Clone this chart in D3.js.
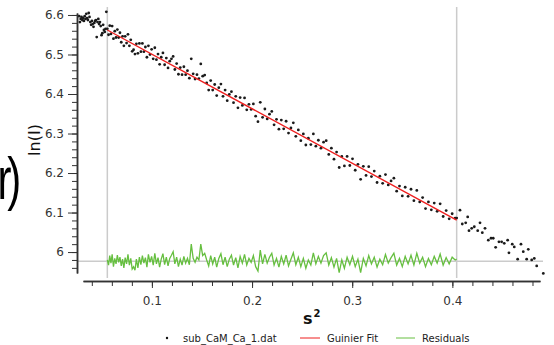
<!DOCTYPE html>
<html><head><meta charset="utf-8">
<script src="https://cdn.jsdelivr.net/npm/d3@7"></script>
<style>body{margin:0;background:#fff}svg{display:block}</style>
</head><body><svg id="c" width="554" height="345"></svg>
<script>
// ---- data ----
const s2 = [
0.0273,0.0281,0.0289,0.0297,0.0305,0.0313,0.0321,0.0329,0.0337,0.0345,
0.0353,0.0361,0.0369,0.0377,0.0385,0.0393,0.0401,0.0409,0.0417,0.0425,
0.0433,0.0441,0.0449,0.0457,0.0465,0.0473,0.0481,0.0489,0.0497,0.0505,
0.0513,0.0521,0.0529,0.0537,0.0545,
0.0555,0.0567,0.0579,0.0591,0.0603,0.0616,0.0629,0.0642,0.0655,0.0668,
0.0681,0.0694,0.0707,0.0720,0.0733,0.0747,0.0761,0.0775,0.0789,0.0803,
0.0817,0.0831,0.0845,0.0860,0.0875,0.0890,0.0905,0.0920,0.0935,0.0950,
0.0965,0.0981,0.0997,0.1013,0.1029,0.1045,0.1061,0.1077,0.1093,0.1110,
0.1127,0.1144,0.1161,0.1178,0.1195,0.1212,0.1229,0.1247,0.1265,0.1283,
0.1301,0.1319,0.1337,0.1355,0.1374,0.1393,0.1412,0.1431,0.1450,0.1469,
0.1488,0.1507,0.1527,0.1547,0.1567,0.1587,0.1607,0.1627,0.1647,0.1668,
0.1689,0.1710,0.1731,0.1752,0.1773,0.1794,0.1815,0.1837,0.1859,0.1881,
0.1903,0.1925,0.1947,0.1969,0.1991,0.2013,0.2036,0.2059,0.2082,0.2105,
0.2128,0.2151,0.2174,0.2197,0.2220,0.2244,0.2268,0.2292,0.2316,0.2340,
0.2364,0.2388,0.2412,0.2437,0.2462,0.2487,0.2512,0.2537,0.2562,0.2587,
0.2612,0.2637,0.2662,0.2688,0.2714,0.2740,0.2766,0.2792,0.2818,0.2844,
0.2870,0.2896,0.2922,0.2949,0.2976,0.3003,0.3030,0.3057,0.3084,0.3111,
0.3138,0.3165,0.3192,0.3220,0.3248,0.3276,0.3304,0.3332,0.3360,0.3388,
0.3416,0.3444,0.3472,0.3500,0.3529,0.3558,0.3587,0.3616,0.3645,0.3674,
0.3703,0.3732,0.3761,0.3790,0.3819,0.3848,0.3878,0.3908,0.3938,0.3968,
0.3998,0.4028,0.4043,
0.4076,0.4099,0.4133,0.4153,0.4166,0.4193,0.4219,0.4253,0.4276,0.4299,
0.4326,0.4359,0.4386,0.4408,0.4432,0.4465,0.4492,0.4518,0.4552,0.4565,
0.4598,0.4618,0.4652,0.4685,0.4708,0.4742,0.4758,0.4792,0.4818,0.4842,
0.4908
];
const lnI = [
6.597,6.582,6.590,6.595,6.587,6.592,6.585,6.597,6.590,6.603,
6.592,6.587,6.605,6.595,6.582,6.575,6.585,6.577,6.570,6.580,
6.585,6.587,6.544,6.582,6.590,6.577,6.582,6.572,6.549,6.554,
6.575,6.562,6.557,6.565,6.608,
6.565,6.550,6.573,6.552,6.572,6.540,6.559,6.543,6.563,6.543,
6.555,6.531,6.546,6.522,6.546,6.529,6.551,6.522,6.537,6.508,
6.512,6.501,6.527,6.503,6.528,6.507,6.528,6.507,6.519,6.493,
6.522,6.500,6.513,6.489,6.517,6.487,6.501,6.475,6.493,6.504,
6.474,6.491,6.466,6.483,6.489,6.495,6.462,6.477,6.450,6.467,
6.449,6.469,6.449,6.459,6.440,6.489,6.451,6.438,6.449,6.439,
6.476,6.445,6.448,6.428,6.410,6.434,6.410,6.424,6.396,6.416,
6.425,6.394,6.410,6.383,6.399,6.406,6.378,6.394,6.365,6.391,
6.371,6.390,6.360,6.374,6.361,6.375,6.344,6.330,6.379,6.341,
6.362,6.337,6.349,6.356,6.322,6.336,6.311,6.334,6.312,6.331,
6.301,6.314,6.327,6.293,6.309,6.282,6.299,6.271,6.288,6.272,
6.299,6.268,6.283,6.263,6.278,6.282,6.247,6.263,6.235,6.253,
6.214,6.242,6.218,6.242,6.219,6.236,6.207,6.222,6.184,6.217,
6.194,6.216,6.191,6.205,6.176,6.192,6.174,6.196,6.170,6.180,
6.187,6.154,6.167,6.142,6.164,6.141,6.159,6.130,6.156,6.127,
6.138,6.110,6.127,6.107,6.124,6.103,6.122,6.090,6.105,6.084,
6.097,6.086,6.086,
6.106,6.071,6.074,6.089,6.054,6.060,6.064,6.054,6.074,6.049,
6.060,6.030,6.035,6.035,6.012,6.026,6.026,6.022,6.030,5.998,
6.020,6.013,5.982,6.020,6.001,5.982,6.007,5.980,5.984,5.965,
5.946
];
// Guinier fit line (end points) and its range
const fitS2 = [0.0555, 0.4043];
const fitLnI = [6.562, 6.081];
const fitFirstIndex = 35;
// residuals of the points inside the fit range, drawn around a baseline
const residualBaseline = 5.977;
const residuals = [
0.003,-0.010,0.014,-0.005,0.017,-0.014,0.007,-0.007,0.015,-0.003,
0.010,-0.012,0.005,-0.017,0.009,-0.007,0.017,-0.010,0.007,-0.020,
-0.014,-0.023,0.005,-0.017,0.010,-0.009,0.014,-0.005,0.009,-0.015,
0.017,-0.003,0.012,-0.010,0.020,-0.007,0.009,-0.015,0.005,0.019,
-0.009,0.010,-0.012,0.007,0.015,0.024,-0.007,0.010,-0.014,0.005,
-0.010,0.012,-0.005,0.007,-0.009,0.043,0.007,-0.003,0.010,0.003,
0.043,0.014,0.020,0.003,-0.012,0.014,-0.007,0.010,-0.015,0.007,
0.019,-0.009,0.010,-0.014,0.005,0.015,-0.010,0.009,-0.017,0.012,
-0.005,0.017,-0.010,0.007,-0.003,0.014,-0.014,-0.025,0.028,-0.007,
0.017,-0.005,0.010,0.020,-0.010,0.007,-0.015,0.012,-0.007,0.015,
-0.012,0.005,0.021,-0.009,0.010,-0.014,0.007,-0.018,0.003,-0.010,
0.021,-0.007,0.012,-0.005,0.014,0.021,-0.010,0.009,-0.015,0.007,
-0.029,0.003,-0.018,0.010,-0.009,0.012,-0.014,0.005,-0.029,0.007,
-0.012,0.014,-0.007,0.010,-0.015,0.005,-0.009,0.017,-0.005,0.009,
0.020,-0.010,0.007,-0.014,0.012,-0.007,0.015,-0.010,0.020,-0.005,
0.010,-0.014,0.007,-0.009,0.012,-0.005,0.018,-0.010,0.009,-0.007,
0.010,0.003,0.005
];
const xTickValues = [0.1, 0.2, 0.3, 0.4];
const xTickLabels = ["0.1", "0.2", "0.3", "0.4"];
const yTickValues = [6.0, 6.1, 6.2, 6.3, 6.4, 6.5, 6.6];
const yTickLabels = ["6", "6.1", "6.2", "6.3", "6.4", "6.5", "6.6"];
const xTitle = "s";
const xTitleSup = "2";
const yTitle = "ln(I)";
const legendLabels = ["sub_CaM_Ca_1.dat", "Guinier Fit", "Residuals"];
const strayText = "r)";

// ---- drawing ----
const FONT = "'DejaVu Sans', Verdana, sans-serif";
const INK = "#333";
const RED = "#ee1f1f", GREEN = "#66bf40", GREY = "#cbcbcb";
const svg = d3.select("#c");

const x = d3.scaleLinear().domain([0.0312, 0.4875]).range([83, 540]);
const y = d3.scaleLinear().domain([5.947, 6.605]).range([273, 13]);
const plotTop = 7, plotBottom = 278, plotLeft = 77, plotRight = 543;

// stray big text on the left edge (partly cut off, as in the reference)
svg.append("text").attr("transform", "translate(-2.5,199) scale(0.7,1)")
  .attr("font-family", "'Liberation Sans', Arial, sans-serif").attr("font-size", 60)
  .attr("letter-spacing", -6).attr("fill", "#000").text(strayText);

// grey reference lines
fitS2.forEach(v => {
  svg.append("line").attr("x1", x(v)).attr("x2", x(v)).attr("y1", plotTop).attr("y2", plotBottom)
    .attr("stroke", GREY).attr("stroke-width", 1.5);
});
svg.append("line").attr("x1", plotLeft).attr("x2", plotRight)
  .attr("y1", y(residualBaseline)).attr("y2", y(residualBaseline))
  .attr("stroke", GREY).attr("stroke-width", 1.5);

// data points
svg.append("g").selectAll("circle").data(s2.map((v, i) => [v, lnI[i]])).join("circle")
  .attr("cx", d => x(d[0])).attr("cy", d => y(d[1])).attr("r", 1.4).attr("fill", "#1a1a1a");

// Guinier fit
svg.append("path").datum(fitS2.map((v, i) => [v, fitLnI[i]]))
  .attr("d", d3.line().x(d => x(d[0])).y(d => y(d[1])))
  .attr("fill", "none").attr("stroke", RED).attr("stroke-width", 1.4);

// residuals
const resData = residuals.map((r, i) => [s2[fitFirstIndex + i], residualBaseline + r]);
svg.append("path").datum(resData)
  .attr("d", d3.line().x(d => x(d[0])).y(d => y(d[1])))
  .attr("fill", "none").attr("stroke", GREEN).attr("stroke-width", 1.3);

// y axis
const gy = svg.append("g").attr("transform", `translate(${plotLeft},0)`);
gy.append("g").call(d3.axisLeft(y).ticks(30).tickSize(5).tickSizeOuter(0).tickFormat(""));
gy.append("g").call(d3.axisLeft(y).tickValues(yTickValues).tickSize(9).tickSizeOuter(0)
  .tickPadding(4).tickFormat((d, i) => yTickLabels[i]));
// x axis
const gx = svg.append("g").attr("transform", "translate(0,281)");
gx.append("g").call(d3.axisBottom(x).ticks(22).tickSize(5).tickSizeOuter(0).tickFormat(""));
gx.append("g").call(d3.axisBottom(x).tickValues(xTickValues).tickSize(7).tickSizeOuter(0)
  .tickPadding(8).tickFormat((d, i) => xTickLabels[i]));

svg.selectAll(".domain").attr("stroke", INK).attr("stroke-width", 1.5);
svg.selectAll(".tick line").attr("stroke", INK);
svg.selectAll(".tick text").attr("font-family", FONT).attr("font-size", 12).attr("fill", INK);

// axis titles
svg.append("text").attr("transform", "translate(40,140) rotate(-90)").attr("text-anchor", "middle")
  .attr("font-family", FONT).attr("font-size", 16).attr("fill", "#111").text(yTitle);
const xt = svg.append("text").attr("x", 303).attr("y", 324).attr("font-family", FONT)
  .attr("font-weight", "bold").attr("font-size", 16).attr("fill", "#111");
xt.append("tspan").text(xTitle);
xt.append("tspan").attr("font-size", 10).attr("dy", -7).attr("dx", 1).text(xTitleSup);

// legend
const lg = svg.append("g").attr("font-family", FONT).attr("font-size", 10).attr("fill", "#222");
lg.append("circle").attr("cx", 167).attr("cy", 338).attr("r", 1.2).attr("fill", "#111");
lg.append("text").attr("x", 183).attr("y", 341.5).text(legendLabels[0]);
lg.append("line").attr("x1", 300).attr("x2", 320).attr("y1", 338).attr("y2", 338).attr("stroke", RED).attr("stroke-width", 1);
lg.append("text").attr("x", 327).attr("y", 341.5).text(legendLabels[1]);
lg.append("line").attr("x1", 396).attr("x2", 415).attr("y1", 338).attr("y2", 338).attr("stroke", GREEN).attr("stroke-width", 1);
lg.append("text").attr("x", 422).attr("y", 341.5).text(legendLabels[2]);
</script>
</body></html>
